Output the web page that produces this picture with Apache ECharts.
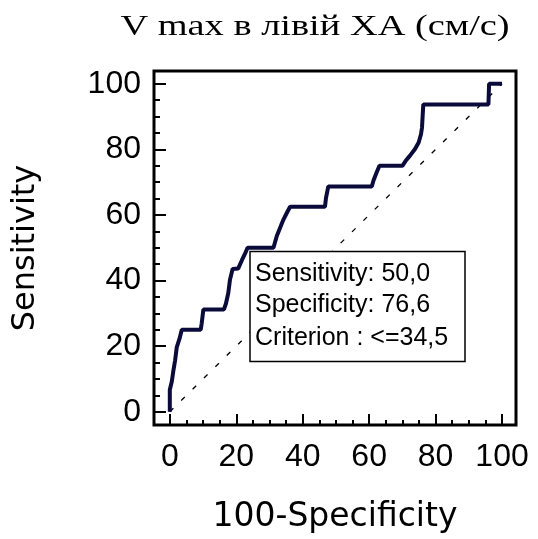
<!DOCTYPE html>
<html>
<head>
<meta charset="utf-8">
<script src="https://cdn.jsdelivr.net/npm/echarts@6/dist/echarts.min.js"></script>
<style>
    html, body { margin: 0; padding: 0; background: #fff; }
    #roc-chart { width: 538px; height: 539px; }
</style>
</head>
<body>
<div id="roc-chart"></div>
<script>
    // ROC curve: x = 100-Specificity, y = Sensitivity
    let fpr = [0, 0, 0.6, 1.1, 1.6, 2.1, 2.9, 3.6, 9.3, 9.6, 10.1, 16.3, 16.9, 17.6, 18.1, 18.9, 20.6, 21.7, 22.6, 23.4,
        31.2, 32.2, 33.2, 34.2, 35.2, 36.2, 46.7, 47.0, 47.7, 60.8, 61.3, 62.3, 63.1, 70.0, 71.0, 72.3, 73.8, 74.9,
        75.6, 75.9, 76.3, 95.9, 96.1, 100]
    let sens = [0, 6.7, 9.2, 12.7, 15.7, 19.7, 22.2, 25.0, 25.0, 27.0, 31.2, 31.2, 33.0, 36.2, 40.2, 43.5, 43.7, 46.2, 48.1, 50.0,
        50.0, 53.6, 56.1, 58.6, 60.6, 62.5, 62.5, 65.1, 68.7, 68.7, 70.5, 73.1, 75.0, 75.0, 76.5, 78.1, 80.1, 82.1,
        84.6, 86.6, 93.7, 93.7, 100, 100]
    // reference line
    let diagX = [0, 100]
    let diagY = [0, 100]

    let majorTicks = [0, 20, 40, 60, 80, 100]
    let minorTicks = [5, 10, 15, 25, 30, 35, 45, 50, 55, 65, 70, 75, 85, 90, 95]

    let titleText = 'V max в лівій ХА (см/с)'
    let xName = '100-Specificity'
    let yName = 'Sensitivity'
    let boxLines = ['Sensitivity: 50,0', 'Specificity: 76,6', 'Criterion : <=34,5']

    let chart = echarts.init(document.getElementById('roc-chart'))

    let xMin = -4.76, xMax = 104.2
    let yMin = -4.05, yMax = 103.9
    let labelFont = {fontSize: 32, fontFamily: 'Liberation Sans', color: '#000'}

    function axis(extra, min, max, ticks, len, withLabel, margin){
        return Object.assign({
            type: 'value',
            min: min,
            max: max,
            gridIndex: 0,
            offset: 0,
            axisLine: {show: false, onZero: false},
            splitLine: {show: false},
            axisTick: {
                show: true,
                inside: true,
                length: len,
                customValues: ticks,
                lineStyle: {color: '#000', width: 2}
            },
            axisLabel: withLabel ? Object.assign({customValues: majorTicks, margin: margin}, labelFont) : {show: false}
        }, extra)
    }

    let options = {
        animation: false,
        grid: {
            left: 154,
            top: 71,
            width: 362,
            height: 360,
            show: true,
            borderColor: '#000',
            borderWidth: 3,
            containLabel: false
        },
        xAxis: [
            axis({
                position: 'bottom',
                name: xName,
                nameLocation: 'middle',
                nameGap: 76,
                nameTextStyle: {fontSize: 33, fontFamily: 'DejaVu Sans', color: '#000'}
            }, xMin, xMax, majorTicks, 11, true, 16),
            axis({position: 'bottom'}, xMin, xMax, minorTicks, 5, false)
        ],
        yAxis: [
            axis({
                position: 'left',
                name: yName,
                nameLocation: 'middle',
                nameGap: 112,
                nameTextStyle: {fontSize: 32, fontFamily: 'DejaVu Sans', color: '#000'}
            }, yMin, yMax, majorTicks, 12, true, 13),
            axis({position: 'left'}, yMin, yMax, minorTicks, 6, false)
        ],
        graphic: [
            {
                type: 'text',
                x: 315,
                y: 27,
                scaleX: 1.28,
                style: {
                    text: titleText,
                    font: '30px "Liberation Serif"',
                    fill: '#000',
                    align: 'center',
                    verticalAlign: 'middle'
                }
            },
            {
                type: 'group',
                z: 5,
                children: [
                    {
                        type: 'rect',
                        z: 5,
                        shape: {x: 250, y: 251.5, width: 215, height: 110},
                        style: {fill: '#fff', stroke: '#000', lineWidth: 1.5}
                    }
                ].concat(boxLines.map((t, i) => {
                    return {
                        type: 'text',
                        z: 6,
                        x: 255,
                        y: [274.3, 305.5, 338][i],
                        style: {
                            text: t,
                            font: '25px "Liberation Sans"',
                            fill: '#000',
                            verticalAlign: 'middle'
                        }
                    }
                }))
            }
        ],
        series: [
            {
                name: 'diagonal',
                type: 'line',
                z: 1,
                symbol: 'none',
                data: diagX.map((x, i) => [x, diagY[i]]),
                lineStyle: {color: '#000', width: 1.3, type: [5, 11]}
            },
            {
                name: 'ROC',
                type: 'line',
                z: 10,
                symbol: 'none',
                data: fpr.map((x, i) => [x, sens[i]]),
                lineStyle: {color: '#0b0b3b', width: 4}
            }
        ]
    }
    chart.setOption(options)
</script>
</body>
</html>
